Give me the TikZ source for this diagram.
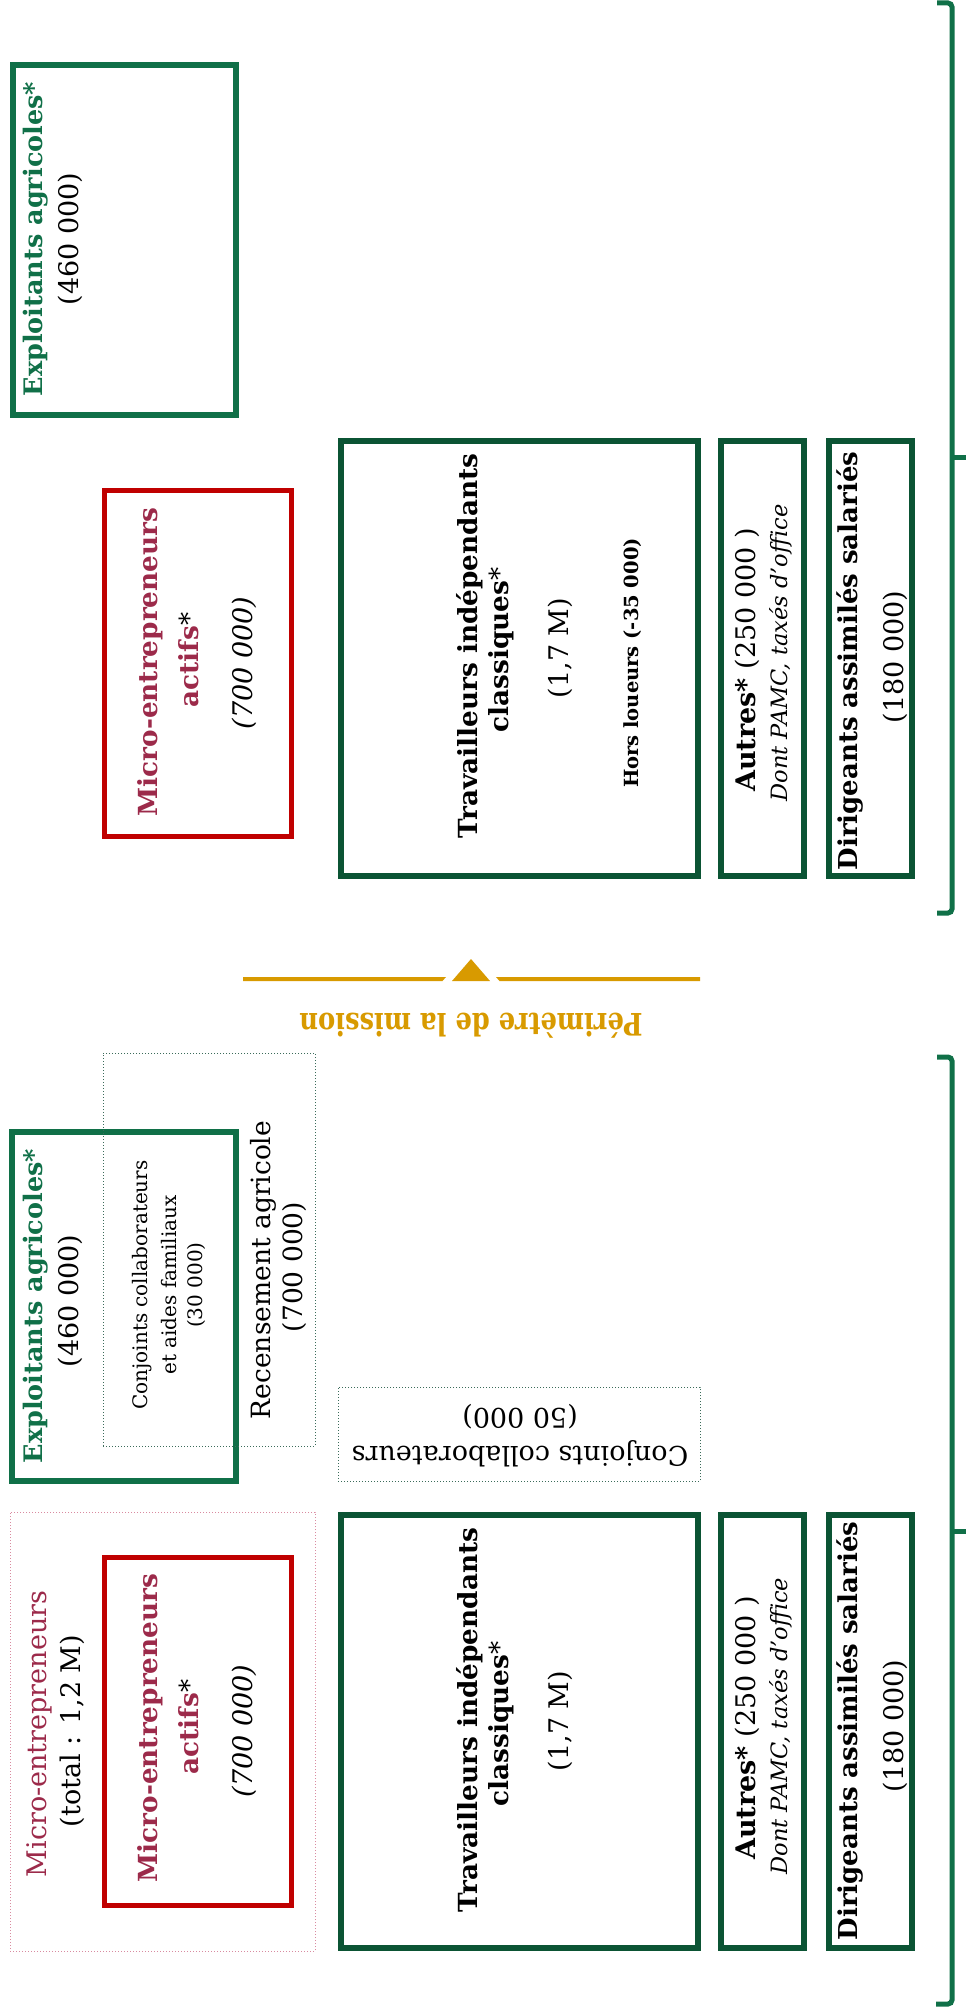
\documentclass[tikz,border=0pt]{standalone}
\usepackage{fontspec}
\setmainfont{DejaVu Serif}
\newfontfamily\perifont{DejaVu Serif}[FakeStretch=0.83]
\usetikzlibrary{fit}

\definecolor{grmed}{HTML}{107048}
\definecolor{grdark}{HTML}{0B5434}
\definecolor{redbox}{HTML}{C00000}
\definecolor{crimson}{HTML}{9C2A4A}
\definecolor{ora}{HTML}{D89A00}
\definecolor{pinkdot}{HTML}{D98BA0}
\definecolor{tealdot}{HTML}{3B6B5A}

\newcommand{\fs}[1]{\fontsize{#1}{#1}\selectfont}

\tikzset{
  frame/.style={inner sep=0pt, outer sep=0pt, line join=miter},
  darkbox/.style={frame, draw=grdark, line width=6pt},
  agribox/.style={frame, draw=grmed, line width=6pt},
  redframe/.style={frame, draw=redbox, line width=5pt},
  tealdots/.style={frame, draw=tealdot, line width=1pt, dotted},
  pinkdots/.style={frame, draw=pinkdot, line width=1pt, dotted},
  vtxt/.style={rotate=90, inner sep=0pt, font=\fs{27}},
  btxt/.style={vtxt, font=\fs{26.3}\bfseries},
  agtxt/.style={vtxt, text=grmed, font=\fs{25.5}\bfseries},
  ittxt/.style={vtxt, font=\fs{22.5}\itshape},
  smalltxt/.style={vtxt, font=\fs{20}},
  flip/.style={rotate=180, inner sep=0pt, font=\fs{27}},
  brace/.style={draw=grmed, line width=5pt},
}

\begin{document}
\begin{tikzpicture}[x=1pt, y=-1pt]
\useasboundingbox (0,0) rectangle (966,2015);

% ---------- upper scheme ----------
\node[agribox, fit={(13,65) (236,415)}] (expA) {};
\node[redframe, fit={(104,490) (291,836)}] (microA) {};
\node[darkbox, fit={(341,441) (698,876)}] (travA) {};
\node[darkbox, fit={(721,441) (804,876)}] (autA) {};
\node[darkbox, fit={(829,441) (912,876)}] (dirA) {};

\node[agtxt] (expA1) at (36,239) {Exploitants agricoles*};
\node[vtxt] (expA2) at (70,239) {(460 000)};

\node[btxt, text=crimson] (microA1) at (150,662) {Micro-entrepreneurs};
\node[btxt, text=crimson] (microA2) at (189,660) {actifs\textcolor{black}{\mdseries*}};
\node[vtxt] (microA3) at (244,663) {\itshape (700 000)};

\node[btxt] (travA1) at (470,646) {Travailleurs indépendants};
\node[btxt] (travA2) at (501,650) {classiques\mdseries*};
\node[vtxt] (travA3) at (560,648) {(1,7 M)};
\node[vtxt, font=\fs{19.5}\bfseries] (travA4) at (633,663) {Hors loueurs (-35 000)};

\node[vtxt] (autA1) at (747,660) {\bfseries Autres*\mdseries\ (250 000 )};
\node[ittxt] (autA2) at (781,653) {Dont PAMC, taxés d’office};

\node[btxt, font=\fs{26}\bfseries] (dirA1) at (850,661) {Dirigeants assimilés salariés};
\node[vtxt] (dirA2) at (895,657) {(180 000)};

% upper brace
\draw[brace, rounded corners=4pt] (937,3) -- (952,3) -- (952,913) -- (937,913);
\draw[brace] (952,457) -- (966,457);

% ---------- mission perimeter marker ----------
\fill[ora] (243,977) -- (446,977) -- (442.5,981) -- (243,981) -- cycle;
\fill[ora] (496,977) -- (700,977) -- (700,981) -- (499.5,981) -- cycle;
\fill[ora] (471,959) -- (490,981) -- (452,981) -- cycle;
\node[flip, text=ora, font=\fs{31}\perifont\bfseries] (perim) at (471,1026) {Périmètre de la mission};

% ---------- lower scheme ----------
\node[agribox, fit={(12,1132) (236,1481)}] (expB) {};
\node[tealdots, fit={(103,1053) (315,1446)}] (recens) {};
\node[tealdots, fit={(338,1387) (700,1481)}] (conjB) {};
\node[pinkdots, fit={(10,1512) (315,1951)}] (microTot) {};
\node[redframe, fit={(104,1557) (291,1905)}] (microB) {};
\node[darkbox, fit={(341,1515) (698,1948)}] (travB) {};
\node[darkbox, fit={(721,1515) (804,1948)}] (autB) {};
\node[darkbox, fit={(829,1515) (912,1948)}] (dirB) {};

\node[agtxt] (expB1) at (36,1306) {Exploitants agricoles*};
\node[vtxt] (expB2) at (70,1301) {(460 000)};

\node[smalltxt] (recens1) at (142,1285) {Conjoints collaborateurs};
\node[smalltxt] (recens2) at (169,1285) {et aides familiaux};
\node[smalltxt] (recens3) at (196,1285) {(30 000)};
\node[vtxt, font=\fs{26.5}] (recens4) at (263,1270) {Recensement agricole};
\node[vtxt, font=\fs{26.5}] (recens5) at (294,1267) {(700 000)};

\node[flip] (conjB1) at (520,1454) {Conjoints collaborateurs};
\node[flip] (conjB2) at (520,1417) {(50 000)};

\node[vtxt, text=crimson] (microTot1) at (39,1734) {Micro-entrepreneurs};
\node[vtxt] (microTot2) at (72,1731) {(total : 1,2 M)};

\node[btxt, text=crimson] (microB1) at (150,1728) {Micro-entrepreneurs};
\node[btxt, text=crimson] (microB2) at (189,1727) {actifs\textcolor{black}{\mdseries*}};
\node[vtxt] (microB3) at (244,1731) {\itshape (700 000)};

\node[btxt] (travB1) at (470,1720) {Travailleurs indépendants};
\node[btxt] (travB2) at (501,1724) {classiques\mdseries*};
\node[vtxt] (travB3) at (560,1721) {(1,7 M)};

\node[vtxt] (autB1) at (747,1728) {\bfseries Autres*\mdseries\ (250 000 )};
\node[ittxt] (autB2) at (781,1726) {Dont PAMC, taxés d’office};

\node[btxt, font=\fs{26}\bfseries] (dirB1) at (850,1731) {Dirigeants assimilés salariés};
\node[vtxt] (dirB2) at (895,1726) {(180 000)};

% lower brace
\draw[brace, rounded corners=4pt] (937,1057) -- (952,1057) -- (952,2004) -- (936,2004);
\draw[brace] (952,1531) -- (966,1531);
\end{tikzpicture}
\end{document}
